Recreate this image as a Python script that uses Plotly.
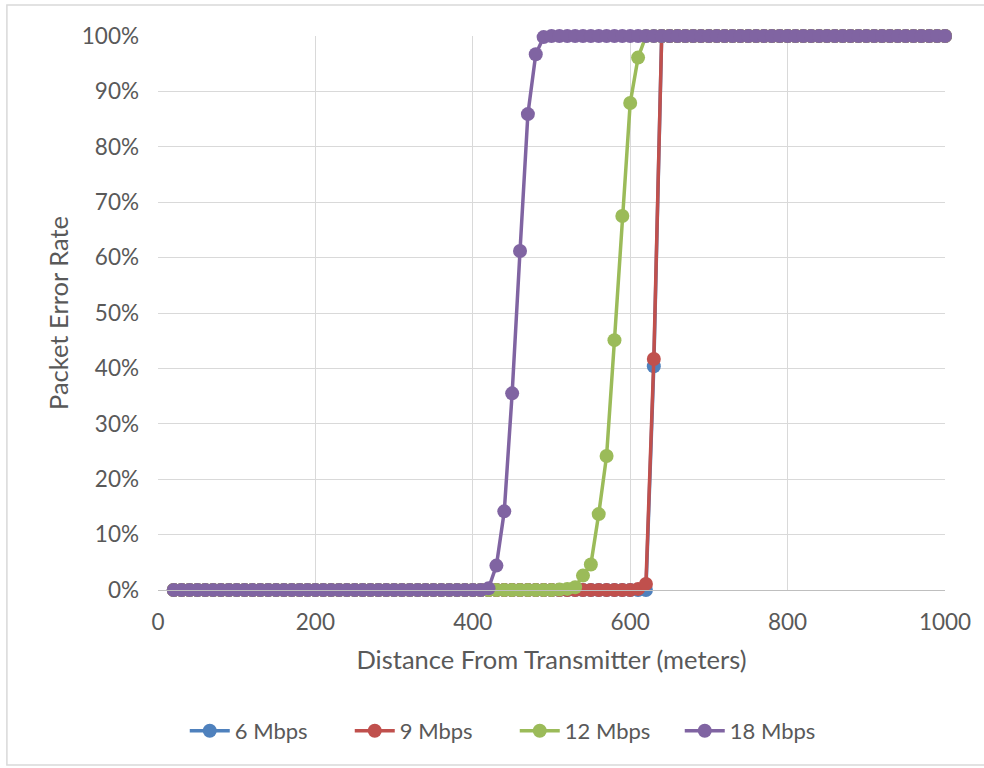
import plotly.graph_objects as go

# Distance from transmitter (m), one sample every 10 m
distance_m = [
    20, 30, 40, 50, 60, 70, 80, 90, 100, 110,
    120, 130, 140, 150, 160, 170, 180, 190, 200, 210,
    220, 230, 240, 250, 260, 270, 280, 290, 300, 310,
    320, 330, 340, 350, 360, 370, 380, 390, 400, 410,
    420, 430, 440, 450, 460, 470, 480, 490, 500, 510,
    520, 530, 540, 550, 560, 570, 580, 590, 600, 610,
    620, 630, 640, 650, 660, 670, 680, 690, 700, 710,
    720, 730, 740, 750, 760, 770, 780, 790, 800, 810,
    820, 830, 840, 850, 860, 870, 880, 890, 900, 910,
    920, 930, 940, 950, 960, 970, 980, 990, 1000,
]

# Packet error rate per data rate (fraction), same sample order as distance_m
per_6mbps = [
    0, 0, 0, 0, 0, 0, 0, 0, 0, 0,
    0, 0, 0, 0, 0, 0, 0, 0, 0, 0,
    0, 0, 0, 0, 0, 0, 0, 0, 0, 0,
    0, 0, 0, 0, 0, 0, 0, 0, 0, 0,
    0, 0, 0, 0, 0, 0, 0, 0, 0, 0,
    0, 0, 0, 0, 0, 0, 0, 0, 0, 0,
    0, 0.404, 1, 1, 1, 1, 1, 1, 1, 1,
    1, 1, 1, 1, 1, 1, 1, 1, 1, 1,
    1, 1, 1, 1, 1, 1, 1, 1, 1, 1,
    1, 1, 1, 1, 1, 1, 1, 1, 1,
]
per_9mbps = [
    0, 0, 0, 0, 0, 0, 0, 0, 0, 0,
    0, 0, 0, 0, 0, 0, 0, 0, 0, 0,
    0, 0, 0, 0, 0, 0, 0, 0, 0, 0,
    0, 0, 0, 0, 0, 0, 0, 0, 0, 0,
    0, 0, 0, 0, 0, 0, 0, 0, 0, 0,
    0, 0, 0, 0, 0, 0, 0, 0, 0, 0.002,
    0.011, 0.417, 1, 1, 1, 1, 1, 1, 1, 1,
    1, 1, 1, 1, 1, 1, 1, 1, 1, 1,
    1, 1, 1, 1, 1, 1, 1, 1, 1, 1,
    1, 1, 1, 1, 1, 1, 1, 1, 1,
]
per_12mbps = [
    0, 0, 0, 0, 0, 0, 0, 0, 0, 0,
    0, 0, 0, 0, 0, 0, 0, 0, 0, 0,
    0, 0, 0, 0, 0, 0, 0, 0, 0, 0,
    0, 0, 0, 0, 0, 0, 0, 0, 0, 0,
    0, 0, 0, 0, 0, 0, 0, 0, 0, 0.001,
    0.002, 0.005, 0.026, 0.046, 0.137, 0.242, 0.451, 0.675, 0.879, 0.961,
    1, 1, 1, 1, 1, 1, 1, 1, 1, 1,
    1, 1, 1, 1, 1, 1, 1, 1, 1, 1,
    1, 1, 1, 1, 1, 1, 1, 1, 1, 1,
    1, 1, 1, 1, 1, 1, 1, 1, 1,
]
per_18mbps = [
    0, 0, 0, 0, 0, 0, 0, 0, 0, 0,
    0, 0, 0, 0, 0, 0, 0, 0, 0, 0,
    0, 0, 0, 0, 0, 0, 0, 0, 0, 0,
    0, 0, 0, 0, 0, 0, 0, 0, 0, 0,
    0.003, 0.044, 0.142, 0.355, 0.612, 0.859, 0.967, 0.998, 1, 1,
    1, 1, 1, 1, 1, 1, 1, 1, 1, 1,
    1, 1, 1, 1, 1, 1, 1, 1, 1, 1,
    1, 1, 1, 1, 1, 1, 1, 1, 1, 1,
    1, 1, 1, 1, 1, 1, 1, 1, 1, 1,
    1, 1, 1, 1, 1, 1, 1, 1, 1,
]

series_names = ["6 Mbps", "9 Mbps", "12 Mbps", "18 Mbps"]
series_values = [per_6mbps, per_9mbps, per_12mbps, per_18mbps]
series_colors = ["#4F81BD", "#C0504D", "#9BBB59", "#8064A2"]

y_ticks = [0, 0.1, 0.2, 0.3, 0.4, 0.5, 0.6, 0.7, 0.8, 0.9, 1.0]
x_ticks = [0, 200, 400, 600, 800, 1000]

FONT = "Lato, Calibri, Carlito, sans-serif"
TEXT = "#595959"
GRID = "#D9D9D9"

fig = go.Figure()
for name, vals, color in zip(series_names, series_values, series_colors):
    fig.add_trace(go.Scatter(
        x=distance_m, y=vals, name=name, mode="lines+markers",
        line=dict(color=color, width=3.5),
        marker=dict(color=color, size=14, line=dict(width=0)),
        cliponaxis=False,
    ))

# light frame around the whole chart area
fig.add_shape(type="rect", xref="paper", yref="paper",
              x0=-0.192, x1=1.06, y0=-0.316, y1=1.056,
              line=dict(color="#D9D9D9", width=1.5), layer="below")

fig.update_layout(
    width=984, height=768,
    margin=dict(l=158, r=39, t=36, b=178),
    paper_bgcolor="white", plot_bgcolor="white",
    font=dict(family=FONT, color=TEXT, size=22),
    showlegend=True,
    legend=dict(
        orientation="h", x=0.034, xanchor="left", y=-0.2545, yanchor="middle",
        font=dict(family=FONT, size=22, color=TEXT),
        entrywidth=110, entrywidthmode="pixels", itemwidth=40,
        traceorder="normal",
    ),
    xaxis=dict(
        range=[0, 1000], tickvals=x_ticks, showgrid=True, gridcolor=GRID,
        gridwidth=1, zeroline=False, showline=True, linecolor="#BFBFBF",
        linewidth=1, mirror=False, ticks="", ticklabelstandoff=12,
        tickfont=dict(size=22.5),
        title=dict(text="Distance From Transmitter (meters)",
                   font=dict(size=25.5), standoff=17),
    ),
    yaxis=dict(
        range=[0, 1], tickvals=y_ticks, tickformat=".0%", showgrid=True,
        gridcolor=GRID, gridwidth=1, zeroline=False, showline=False,
        ticks="", ticklabelstandoff=18, tickfont=dict(size=22.5),
        title=dict(text="Packet Error Rate", font=dict(size=25.5), standoff=5),
    ),
)

fig.write_html("out.html")
